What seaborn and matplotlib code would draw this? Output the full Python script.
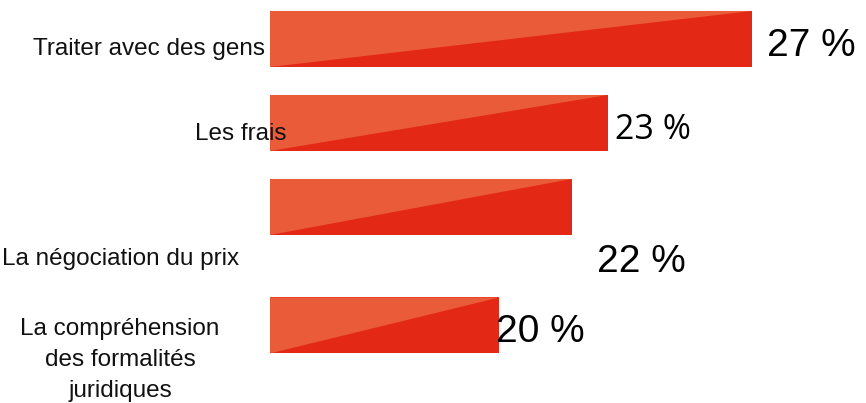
import matplotlib
matplotlib.use("Agg")
import matplotlib.pyplot as plt
from matplotlib.patches import Polygon
import pandas as pd
import seaborn as sns

# Survey results: what people find hardest
categories = [
    "Traiter avec des gens",
    "Les frais",
    "La négociation du prix",
    "La compréhension\ndes formalités\njuridiques",
]
values = [27, 23, 22, 20]
value_labels = [f"{v} %" for v in values]

# Row placement (the last row sits a little further down)
row_pos = [0.0, 1.0, 2.0, 3.41]

W, H = 866, 403
DARK = "#E42816"
LIGHT = "#EA5B3A"

sns.set_theme(style="white")
plt.rcParams["font.family"] = ["Liberation Sans", "DejaVu Sans"]

fig = plt.figure(figsize=(W / 100, H / 100), dpi=100)
ax_left = 270 / W
ax = fig.add_axes([ax_left, 0, 1 - ax_left, 1])

df = pd.DataFrame({"value": values, "pos": row_pos})
sns.barplot(data=df, x="value", y="pos", orient="h", native_scale=True,
            width=0.667, color=DARK, saturation=1, linewidth=0, ax=ax)

# value axis starts near 13.6 %, 36 px per point
x0 = 13.64
ax.set_xlim(x0, x0 + (W * (1 - ax_left)) / 36.08)
ax.set_ylim(-0.464 + H / 84, -0.464)
ax.set_axis_off()

# lighter upper-left triangle on each bar
for p in ax.patches[:]:
    xl = x0
    xr = p.get_x() + p.get_width()
    y0 = p.get_y()
    y1 = y0 + p.get_height()
    ax.add_patch(Polygon([(xl, y0), (xr, y0), (xl, y1)], closed=True,
                         facecolor=LIGHT, edgecolor="none", zorder=3))


def fx(px):
    return px / W


def fy(py):
    return 1 - py / H


# category labels (x, baseline y of the last line, alignment)
cat_pos = [(265, 55, "right"), (241, 140, "center"),
           (121, 265, "center"), (120, 397, "center")]
for text, (px, py, ha) in zip(categories, cat_pos):
    fig.text(fx(px), fy(py), text, ha=ha, va="baseline", fontsize=17.5,
             color="#111111", linespacing=1.52, zorder=5,
             multialignment="center")

# value labels (x, baseline y, family, size)
val_pos = [(767, 56, "Liberation Sans", 28),
           (615, 139, "Open Sans", 24.5),
           (597, 272, "Liberation Sans", 28),
           (496, 342, "Liberation Sans", 28)]
for text, (px, py, fam, fs) in zip(value_labels, val_pos):
    fig.text(fx(px), fy(py), text, ha="left", va="baseline", fontsize=fs,
             family=[fam, "DejaVu Sans"], color="#000000", zorder=5)

fig.savefig("out.png", dpi=100, facecolor="white")
